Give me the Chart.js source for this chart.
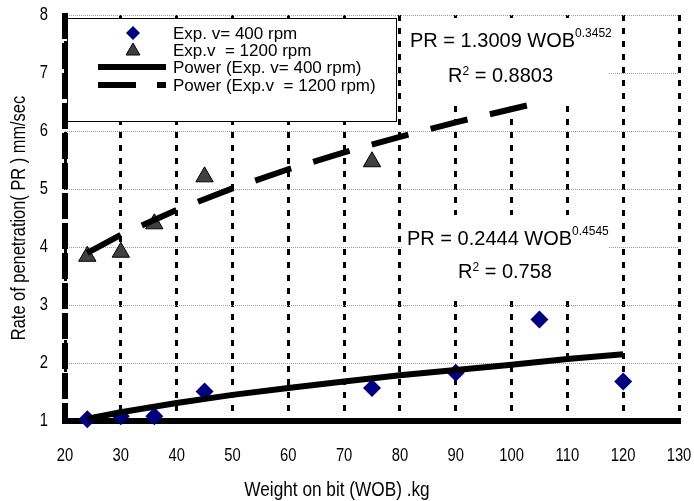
<!DOCTYPE html>
<html>
<head>
<meta charset="utf-8">
<script src="https://cdn.jsdelivr.net/npm/chart.js@4.4.1/dist/chart.umd.min.js"></script>
<style>
  html, body { margin: 0; padding: 0; background: #fff; }
  #wrap { width: 694px; height: 501px; }
</style>
</head>
<body>
<div id="wrap"><canvas id="chart" width="694" height="501"></canvas></div>
<script>
// measured points
var wob400 = [24, 30, 36, 45, 75, 90, 105, 120];
var pr400 = [1.03, 1.08, 1.08, 1.51, 1.57, 1.83, 2.75, 1.68];
var wob1200 = [24, 30, 36, 45, 75];
var pr1200 = [3.84, 3.91, 4.40, 5.21, 5.47];

// power trend lines
var fitWob400 = [24, 30, 40, 50, 60, 70, 80, 90, 100, 110, 120];
var fitPr400 = [1.04, 1.15, 1.31, 1.45, 1.57, 1.68, 1.79, 1.88, 1.97, 2.07, 2.15];
var fitWob1200 = [24, 30, 40, 50, 60, 70, 80, 90, 105];
var fitPr1200 = [3.90, 4.21, 4.64, 5.01, 5.34, 5.63, 5.90, 6.15, 6.49];

var xTicks = [20, 30, 40, 50, 60, 70, 80, 90, 100, 110, 120, 130];
var yTicks = [1, 2, 3, 4, 5, 6, 7, 8];

var seriesNames = ['Exp. v= 400 rpm', 'Exp.v  = 1200 rpm', 'Power (Exp. v= 400 rpm)', 'Power (Exp.v  = 1200 rpm)'];
var xTitle = 'Weight on bit (WOB) .kg';
var yTitle = 'Rate of penetration( PR ) mm/sec';

var SANS = '"Liberation Sans", Arial, sans-serif';
var SQUEEZE = 0.82; // the source font is a narrow one

function pts(xs, ys) {
  return xs.map(function (x, i) { return { x: x, y: ys[i] }; });
}

// narrow text: draw with a horizontal squeeze
function narrowText(ctx, text, x, y, size, align, angle) {
  ctx.save();
  ctx.translate(x, y);
  if (angle) ctx.rotate(angle);
  ctx.scale(SQUEEZE, 1);
  ctx.font = size + 'px ' + SANS;
  ctx.fillStyle = '#000';
  ctx.textAlign = align;
  ctx.textBaseline = 'middle';
  ctx.fillText(text, 0, 0);
  ctx.restore();
}

function diamond(ctx, x, y, r) {
  ctx.beginPath();
  ctx.moveTo(x - r, y); ctx.lineTo(x, y - r); ctx.lineTo(x + r, y); ctx.lineTo(x, y + r);
  ctx.closePath();
  ctx.fillStyle = '#000080';
  ctx.fill();
}

function triangle(ctx, x, y, r) {
  ctx.beginPath();
  ctx.moveTo(x, y - r);
  ctx.lineTo(x + r * 0.866, y + r / 2);
  ctx.lineTo(x - r * 0.866, y + r / 2);
  ctx.closePath();
  ctx.fillStyle = '#404040';
  ctx.fill();
  ctx.strokeStyle = '#000';
  ctx.lineWidth = 1;
  ctx.stroke();
}

// equation: main text + superscript, then R^2 line
function equation(ctx, x1, y1, coef, expo, x2, y2, r2) {
  ctx.fillStyle = '#000';
  ctx.textBaseline = 'alphabetic';
  ctx.textAlign = 'left';
  ctx.font = '20px ' + SANS;
  var t = 'PR = ' + coef + ' WOB';
  ctx.fillText(t, x1, y1);
  var w = ctx.measureText(t).width;
  ctx.font = '12px ' + SANS;
  ctx.fillText(expo, x1 + w, y1 - 10);

  ctx.font = '20px ' + SANS;
  ctx.fillText('R', x2, y2);
  var wr = ctx.measureText('R').width;
  ctx.font = '12px ' + SANS;
  ctx.fillText('2', x2 + wr, y2 - 7);
  var w2 = ctx.measureText('2').width;
  ctx.font = '20px ' + SANS;
  ctx.fillText(' = ' + r2, x2 + wr + w2, y2);
}

var overlay = {
  id: 'overlay',
  beforeDatasetsDraw: function (chart) {
    var ctx = chart.ctx;
    var a = chart.chartArea;
    ctx.save();

    // left axis, thick and broken like the scan
    ctx.strokeStyle = '#000';
    ctx.lineWidth = 6;
    ctx.setLineDash([26, 4]);
    ctx.beginPath();
    ctx.moveTo(a.left, a.top - 2);
    ctx.lineTo(a.left, a.bottom);
    ctx.stroke();
    ctx.setLineDash([]);

    // legend box
    var lx = a.left + 2, ly = a.top + 3, lw = 329, lh = 103;
    ctx.fillStyle = '#fff';
    ctx.fillRect(lx, ly, lw, lh);
    ctx.strokeStyle = '#000';
    ctx.lineWidth = 1;
    ctx.strokeRect(lx + 0.5, ly + 0.5, lw, lh);

    var mx = lx + 66, tx = lx + 106;
    var rows = [ly + 15, ly + 32, ly + 49, ly + 67];
    diamond(ctx, mx, rows[0], 7);
    triangle(ctx, mx, rows[1] + 1, 8);
    ctx.strokeStyle = '#000';
    ctx.lineWidth = 6;
    ctx.beginPath(); ctx.moveTo(lx + 31, rows[2]); ctx.lineTo(lx + 99, rows[2]); ctx.stroke();
    ctx.setLineDash([38, 21]);
    ctx.beginPath(); ctx.moveTo(lx + 31, rows[3]); ctx.lineTo(lx + 99, rows[3]); ctx.stroke();
    ctx.setLineDash([]);

    ctx.fillStyle = '#000';
    ctx.font = '17px ' + SANS;
    ctx.textBaseline = 'middle';
    ctx.textAlign = 'left';
    seriesNames.forEach(function (s, i) { ctx.fillText(s, tx, rows[i] + 1); });

    // equation boxes
    ctx.fillStyle = '#fff';
    ctx.fillRect(a.left + 337, a.top + 3, 207, 84);
    ctx.fillRect(a.left + 337, a.top + 200, 207, 80);
    equation(ctx, a.left + 345, a.top + 32, '1.3009', '0.3452', a.left + 383, a.top + 67, '0.8803');
    equation(ctx, a.left + 342, a.top + 230, '0.2444', '0.4545', a.left + 393, a.top + 263, '0.758');

    ctx.restore();
  },
  afterDraw: function (chart) {
    var ctx = chart.ctx;
    var a = chart.chartArea;
    var xs = chart.scales.x, ys = chart.scales.y;
    xTicks.forEach(function (v) {
      narrowText(ctx, String(v), xs.getPixelForValue(v), a.bottom + 35, 18, 'center');
    });
    yTicks.forEach(function (v) {
      narrowText(ctx, String(v), a.left - 17, ys.getPixelForValue(v), 18, 'right');
    });
    narrowText(ctx, xTitle, a.left + 272, a.bottom + 69, 21, 'center');
    narrowText(ctx, yTitle, 19, (a.top + a.bottom) / 2, 20, 'center', -Math.PI / 2);
  }
};

new Chart(document.getElementById('chart'), {
  type: 'scatter',
  data: {
    datasets: [
      {
        label: seriesNames[0],
        data: pts(wob400, pr400),
        pointStyle: 'rectRot',
        pointRadius: 9,
        pointHoverRadius: 9,
        backgroundColor: '#000080',
        borderWidth: 0,
        order: 2
      },
      {
        label: seriesNames[1],
        data: pts(wob1200, pr1200),
        pointStyle: 'triangle',
        pointRadius: 10,
        pointHoverRadius: 10,
        backgroundColor: '#404040',
        borderColor: '#000',
        borderWidth: 1,
        order: 2
      },
      {
        label: seriesNames[2],
        data: pts(fitWob400, fitPr400),
        showLine: true,
        pointRadius: 0,
        borderColor: '#000',
        borderWidth: 6,
        order: 1
      },
      {
        label: seriesNames[3],
        data: pts(fitWob1200, fitPr1200),
        showLine: true,
        pointRadius: 0,
        borderColor: '#000',
        borderWidth: 6,
        borderDash: [38, 23],
        order: 1
      }
    ]
  },
  options: {
    responsive: false,
    animation: false,
    clip: false,
    layout: { padding: { top: 15, right: 15, left: 0, bottom: 0 } },
    plugins: {
      legend: { display: false },
      tooltip: { enabled: false }
    },
    scales: {
      x: {
        type: 'linear',
        min: 20,
        max: 130,
        afterBuildTicks: function (s) { s.ticks = xTicks.map(function (v) { return { value: v }; }); },
        afterFit: function (s) { s.height = 80; },
        grid: { color: '#000', lineWidth: 3, drawTicks: false },
        border: { color: '#000', width: 6, dash: [6, 7] },
        ticks: { display: false }
      },
      y: {
        type: 'linear',
        min: 1,
        max: 8,
        afterBuildTicks: function (s) { s.ticks = yTicks.map(function (v) { return { value: v }; }); },
        afterFit: function (s) { s.width = 65; },
        grid: { color: '#999', lineWidth: 1, drawTicks: false },
        border: { display: false, dash: [1, 1] },
        ticks: { display: false }
      }
    }
  },
  plugins: [overlay]
});
</script>
</body>
</html>
